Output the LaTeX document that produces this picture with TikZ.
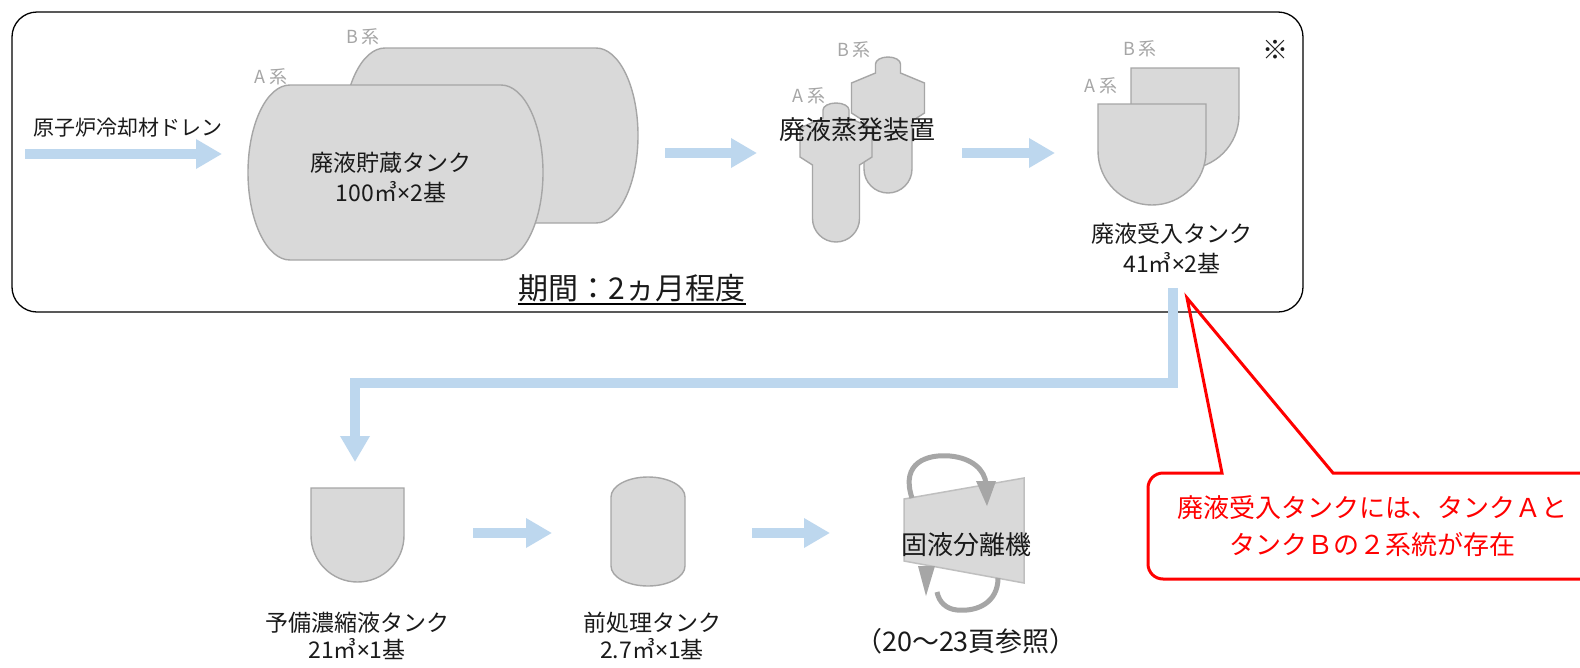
\documentclass[tikz,border=0pt]{standalone}
\usepackage{fontspec}
\setmainfont{Noto Sans CJK JP}
\newfontfamily\latfont{Noto Sans}
\newcommand{\tms}{{\latfont ×}}
\usetikzlibrary{arrows.meta}
\definecolor{flow}{HTML}{BDD7EE}
\definecolor{tankfill}{HTML}{D9D9D9}
\definecolor{tankline}{HTML}{A6A6A6}
\definecolor{plateline}{HTML}{BFBFBF}
\definecolor{syslbl}{HTML}{A6A6A6}
\definecolor{rotgray}{HTML}{A6A6A6}
\definecolor{callred}{HTML}{FF0000}
\definecolor{txt}{HTML}{1A1A1A}
\tikzset{
  flowline/.style={draw=flow, line width=10pt, line join=miter, -{Triangle[length=26pt,width=28pt]}},
  tank/.style={fill=tankfill, draw=tankline, line width=1.4pt},
  lbl/.style={text=txt, font=\fontsize{23}{30}\selectfont, align=center, inner sep=0pt},
  lowlbl/.style={text=txt, font=\fontsize{23}{27}\selectfont, align=center, inner sep=0pt},
  biglbl/.style={text=txt, font=\fontsize{26}{31}\selectfont, align=center, inner sep=0pt},
  syslabel/.style={text=syslbl, font=\fontsize{18}{20}\selectfont, inner sep=0pt},
  frame/.style={draw=black, line width=1.3pt, rounded corners=25pt},
  callout/.style={draw=callred, line width=3pt, line join=miter},
  rotline/.style={draw=rotgray, line width=5pt},
}
\begin{document}
\begin{tikzpicture}[x=1pt, y=-1pt]
\useasboundingbox (0,0) rectangle (1580,667);
\fill[white] (0,0) rectangle (1580,667);

% frame of the first stage
\draw[frame] (12,12) rectangle (1303,312);
\node[biglbl] (note) at (1275,50) {※};

% storage tanks
\draw[tank] (385,48) -- (596,48) arc[start angle=-90,end angle=90,x radius=42,y radius=87.5] -- (385,223) arc[start angle=90,end angle=270,x radius=42,y radius=87.5] -- cycle;
\draw[tank] (290,85) -- (501,85) arc[start angle=-90,end angle=90,x radius=42,y radius=87.5] -- (290,260) arc[start angle=90,end angle=270,x radius=42,y radius=87.5] -- cycle;
\node[syslabel] (stB) at (363,37) {B\hspace{4pt}系};
\node[syslabel] (stA) at (271,77) {A\hspace{4pt}系};
\node[lbl] (stTxt) at (391,177) {廃液貯蔵タンク\\100㎥\tms 2基};

% evaporators
\draw[tank] (875.5,73) -- (875.5,64) arc[start angle=180,end angle=360,x radius=12.5,y radius=7] -- (900.5,73) -- (924.5,83) -- (924.5,113) -- (912,121) -- (912,169) arc[start angle=0,end angle=180,radius=24] -- (864,121) -- (851.5,113) -- (851.5,83) -- cycle;
\draw[tank] (823,118) -- (823,110) arc[start angle=180,end angle=360,x radius=13,y radius=7] -- (849,118) -- (872,128) -- (872,157) -- (859.5,165) -- (859.5,218.5) arc[start angle=0,end angle=180,radius=23.5] -- (812.5,165) -- (800,157) -- (800,128) -- cycle;
\node[syslabel] (evB) at (854,50) {B\hspace{4pt}系};
\node[syslabel] (evA) at (809,96) {A\hspace{4pt}系};
\node[biglbl] (evTxt) at (857,130) {廃液蒸発装置};

% receiving tanks
\draw[tank] (1131,68) -- (1239,68) -- (1239,115) arc[start angle=0,end angle=180,radius=54] -- cycle;
\draw[tank] (1098,104) -- (1206,104) -- (1206,151) arc[start angle=0,end angle=180,radius=54] -- cycle;
\node[syslabel] (rcB) at (1140,49) {B\hspace{4pt}系};
\node[syslabel] (rcA) at (1101,86) {A\hspace{4pt}系};
\node[lbl] (rcTxt) at (1172,248) {廃液受入タンク\\41㎥\tms 2基};

% drain
\node[text=txt, font=\fontsize{21}{24}\selectfont, inner sep=0pt] (drain) at (128,128) {原子炉冷却材ドレン};

% period
\node[text=txt, font=\fontsize{30}{32}\selectfont, inner sep=0pt] (period) at (632,288) {期間：2ヵ月程度};
\draw[line width=1.8pt] ([yshift=-2pt]period.south west) -- ([yshift=-2pt]period.south east);

% flow arrows, first stage
\coordinate (f0) at (25,154);
\coordinate (f1) at (222,154);
\coordinate (f2) at (665,153);
\coordinate (f3) at (757,153);
\coordinate (f4) at (962,153);
\coordinate (f5) at (1055,153);
\draw[flowline] (f0) -- (f1);
\draw[flowline] (f2) -- (f3);
\draw[flowline] (f4) -- (f5);

% transfer line
\coordinate (t0) at (1172.5,288);
\coordinate (t1) at (1172.5,382.5);
\coordinate (t2) at (355,382.5);
\coordinate (t3) at (355,462);
\draw[flowline] (t0) -- (t1) -- (t2) -- (t3);

% spare concentrate tank
\draw[tank] (311,488) -- (404,488) -- (404,535.5) arc[start angle=0,end angle=180,radius=46.5] -- cycle;
\node[lowlbl] (spTxt) at (357,636) {予備濃縮液タンク\\21㎥\tms 1基};

% pretreatment tank
\draw[tank] (611,497) arc[start angle=180,end angle=360,x radius=37,y radius=20] -- (685,566) arc[start angle=0,end angle=180,x radius=37,y radius=20] -- cycle;
\node[lowlbl] (ptTxt) at (652,636) {前処理タンク\\2.7㎥\tms 1基};

\coordinate (b0) at (473,533);
\coordinate (b1) at (552,533);
\coordinate (b2) at (752,533);
\coordinate (b3) at (830,533);
\draw[flowline] (b0) -- (b1);
\draw[flowline] (b2) -- (b3);

% solid-liquid separator
\fill[tankfill] (904,499) -- (1024,478) -- (1024,583) -- (904,561) -- cycle;
\draw[plateline, line width=1.5pt] (904,499) -- (1024,478) -- (1024,583) -- (904,561) -- cycle;
\draw[rotline] (912,498) .. controls (900,462) and (928,454) .. (950,456) .. controls (972,458) and (985,470) .. (986,484);
\fill[rotgray] (976,481) -- (996,481) -- (987,506) -- cycle;
\draw[rotline] (998,578) .. controls (998,602) and (978,612) .. (957,610) .. controls (946,609) and (939,602) .. (937,592);
\fill[rotgray] (918,566) -- (935,566) -- (926,596) -- cycle;
\node[biglbl] (sepTxt) at (966,545) {固液分離機};
\node[text=txt, font=\fontsize{27}{30}\selectfont, inner sep=0pt] (sepRef) at (966,641) {（20～23頁参照）};

% callout
\draw[callout] (1222,473) -- (1187,298) -- (1333,473) -- (1600,473) -- (1600,579) -- (1163,579) arc[start angle=90,end angle=180,radius=15] -- (1148,488) arc[start angle=180,end angle=270,radius=15] -- cycle;
\node[text=callred, font=\fontsize{26}{37}\selectfont, align=center, inner sep=0pt] (callTxt) at (1372,526) {廃液受入タンクには、タンクＡと\\タンクＢの２系統が存在};
\end{tikzpicture}
\end{document}
